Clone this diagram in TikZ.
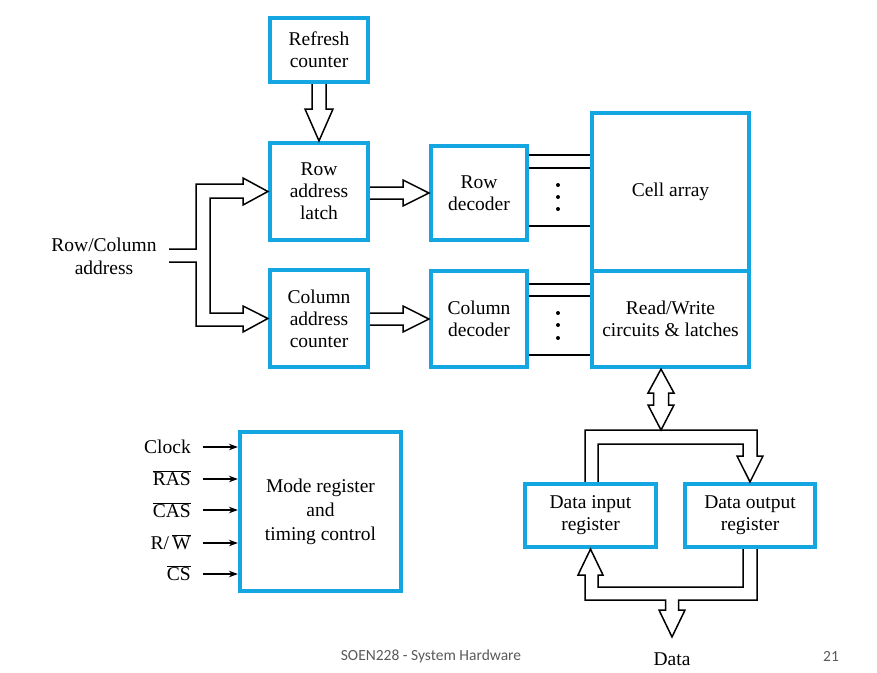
\documentclass[tikz,border=0pt]{standalone}
\usepackage{fontspec}
\setmainfont{Liberation Serif}
\newfontfamily\footfont{Carlito}
\usetikzlibrary{arrows.meta}
\definecolor{boxblue}{RGB}{20,166,224}
\definecolor{footgray}{RGB}{90,90,90}
\newcommand\ovl[1]{$\overline{\hbox{#1}}$}
\tikzset{
  blk/.style={draw=boxblue, line width=4.2pt, fill=white, align=center, inner sep=0pt,
    font=\fontsize{19.5}{22}\selectfont},
  bus/.style={draw=black, line width=1.5pt, fill=white, line join=miter},
  wire/.style={draw=black, line width=1.4pt},
  sig/.style={draw=black, line width=1.5pt, -{Stealth[length=9pt,width=6.5pt]}},
  lbl/.style={align=center, inner sep=0pt, font=\fontsize{19.5}{23}\selectfont},
  foot/.style={inner sep=0pt, text=footgray, font=\footfont\fontsize{15.5}{18}\selectfont},
  dotmark/.style={fill=black, draw=none}
}
\begin{document}
\begin{tikzpicture}[x=1pt, y=-1pt]
\useasboundingbox (0,0) rectangle (877,672);

% blocks
\node[blk, minimum width=98pt, minimum height=64pt] (refresh) at (319,50) {Refresh\\counter};
\node[blk, minimum width=98pt, minimum height=97pt] (rowlatch) at (319,191.5) {Row\\address\\latch};
\node[blk, minimum width=98pt, minimum height=97pt] (colctr) at (319,318.5) {Column\\address\\counter};
\node[blk, minimum width=96pt, minimum height=94pt] (rowdec) at (479,193) {Row\\decoder};
\node[blk, minimum width=96pt, minimum height=96pt] (coldec) at (479,319) {Column\\decoder};
\node[blk, minimum width=157pt, minimum height=158pt] (cell) at (670.5,192) {Cell array};
\node[blk, minimum width=157pt, minimum height=96pt] (rw) at (670.5,319) {Read/Write\\circuits \& latches};
\node[blk, minimum width=161pt, minimum height=159pt, font=\fontsize{19.5}{24}\selectfont] (mode) at (320.5,511.5) {Mode register\\and\\timing control};
\node[blk, minimum width=131pt, minimum height=63pt] (din) at (590.5,515.5) {Data input\\register};
\node[blk, minimum width=130pt, minimum height=63pt] (dout) at (750,515.5) {Data output\\register};

% labels
\node[lbl] (addr) at (104,256) {Row/Column\\address};
\node[lbl] (data) at (672,659) {Data};
\coordinate (datatip) at (672,637);

% refresh -> row latch
\draw[bus] (refresh.south -| 312,0) -- (312,109) -- (305,109) -- (rowlatch.north) -- (333,109) -- (326,109) -- (refresh.south -| 326,0);

% row/column address bus
\draw[bus, fill=none] (169,249) -- (196,249) -- (196,184) -- (243,184) -- (243,178) -- (rowlatch.west)
  -- (243,205) -- (243,198) -- (210,198) -- (210,313) -- (243,313) -- (243,306) -- (colctr.west)
  -- (243,332) -- (243,326) -- (196,326) -- (196,262) -- (169,262);

% latch -> decoder, counter -> decoder
\draw[bus] (rowlatch.east |- 0,187) -- (403,187) -- (403,180) -- (rowdec.west) -- (403,206) -- (403,199) -- (rowlatch.east |- 0,199);
\draw[bus] (colctr.east |- 0,313) -- (403,313) -- (403,306) -- (coldec.west) -- (403,332) -- (403,325) -- (colctr.east |- 0,325);

% decoder -> array lines
\foreach \yy in {155,168,226} {\draw[wire] (rowdec.east |- 0,\yy) -- (cell.west |- 0,\yy);}
\foreach \yy in {284,296,355} {\draw[wire] (coldec.east |- 0,\yy) -- (rw.west |- 0,\yy);}
\foreach \yy in {185,197,209} {\fill[dotmark] (558,\yy) circle (2pt);}
\foreach \yy in {313,325,338} {\fill[dotmark] (558,\yy) circle (2pt);}

% bidirectional arrow R/W <-> data bus
\coordinate (bustip) at (661,430);
\draw[bus] (rw.south -| 661,0) -- (648,393) -- (653.5,393) -- (653.5,405) -- (648,405) -- (bustip)
  -- (674,405) -- (668.5,405) -- (668.5,393) -- (674,393) -- cycle;

% upper data bus to output register
\draw[bus, fill=none] (din.north -| 585,0) -- (585,430) -- (757,430) -- (757,456) -- (763,456) -- (dout.north)
  -- (737,456) -- (743,456) -- (743,444) -- (598,444) -- (din.north -| 598,0);

% lower data bus
\draw[bus, fill=none] (dout.south -| 757,0) -- (757,600) -- (678.5,600) -- (678.5,610) -- (685,610) -- (datatip)
  -- (659,610) -- (665.5,610) -- (665.5,600) -- (585,600) -- (585,575) -- (578,575) -- (din.south)
  -- (603,575) -- (598,575) -- (598,587) -- (743,587) -- (dout.south -| 743,0);

% control inputs
\node[lbl, anchor=east] (clk) at (191,447) {Clock};
\node[lbl, anchor=east] (ras) at (191,478) {\ovl{RAS}};
\node[lbl, anchor=east] (cas) at (191,510) {\ovl{CAS}};
\node[lbl, anchor=east] (rwn) at (191,542) {R/\,\ovl{W}};
\node[lbl, anchor=east] (cs) at (191,573) {\ovl{CS}};
\draw[sig] (203,447) -- (mode.west |- 0,447);
\draw[sig] (203,479) -- (mode.west |- 0,479);
\draw[sig] (203,510) -- (mode.west |- 0,510);
\draw[sig] (203,543) -- (mode.west |- 0,543);
\draw[sig] (203,574) -- (mode.west |- 0,574);

% footer
\node[foot] (footl) at (431,656) {SOEN228 - System Hardware};
\node[foot] (footr) at (831,656) {21};
\end{tikzpicture}
\end{document}
